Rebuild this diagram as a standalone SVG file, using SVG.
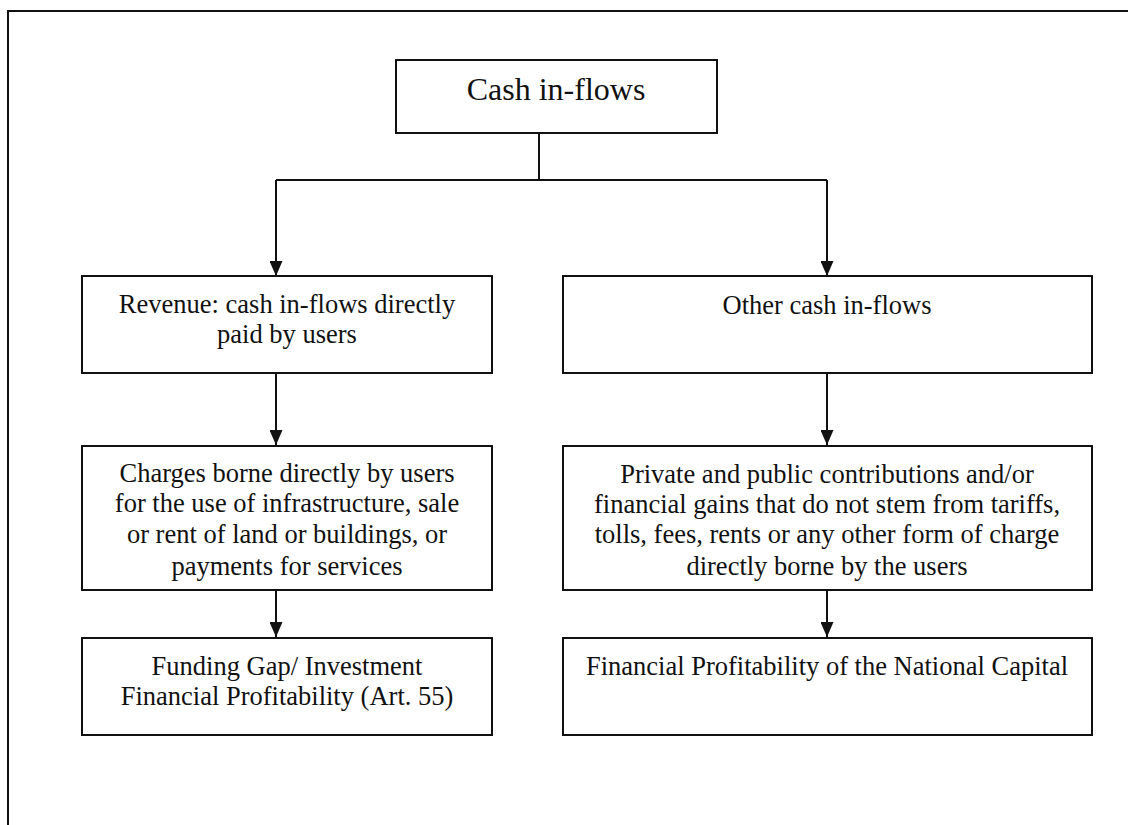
<svg xmlns="http://www.w3.org/2000/svg" width="1128" height="825" viewBox="0 0 1128 825">
<style>
.box{fill:#fff;stroke:#111;stroke-width:2}
.t{font-family:"Liberation Serif","Times New Roman",serif;font-size:26.5px;fill:#111;text-anchor:middle}
.big{font-size:32px}
.c{fill:none;stroke:#111;stroke-width:2}
</style>
<defs>
<marker id="ar" markerWidth="15" markerHeight="13" refX="15" refY="6.5" orient="auto" markerUnits="userSpaceOnUse" viewBox="0 0 15 13">
<path d="M0,0 L15,6.5 L0,13 Z" fill="#111"/>
</marker>
</defs>
<rect width="1128" height="825" fill="#fff"/>
<path d="M8,825 L8,11 L1128,11" fill="none" stroke="#111" stroke-width="2"/>
<g id="connectors">
<path class="c" d="M539,133 L539,180"/>
<path class="c" d="M276,180 L827,180"/>
<path class="c" d="M276,180 L276,276" marker-end="url(#ar)"/>
<path class="c" d="M827,180 L827,276" marker-end="url(#ar)"/>
<path class="c" d="M276,373 L276,445" marker-end="url(#ar)"/>
<path class="c" d="M827,373 L827,445" marker-end="url(#ar)"/>
<path class="c" d="M276,590 L276,637" marker-end="url(#ar)"/>
<path class="c" d="M827,590 L827,637" marker-end="url(#ar)"/>
</g>
<g id="top">
<rect class="box" x="396" y="60" width="321" height="73"/>
<text class="t big" x="556" y="100">Cash in-flows</text>
</g>
<g id="revenue">
<rect class="box" x="82" y="276" width="410" height="97"/>
<text class="t" x="287" y="313">Revenue: cash in-flows directly</text>
<text class="t" x="287" y="343">paid by users</text>
</g>
<g id="other">
<rect class="box" x="563" y="276" width="529" height="97"/>
<text class="t" x="827" y="314">Other cash in-flows</text>
</g>
<g id="charges">
<rect class="box" x="82" y="446" width="410" height="144"/>
<text class="t" x="287" y="482">Charges borne directly by users</text>
<text class="t" x="287" y="512">for the use of infrastructure, sale</text>
<text class="t" x="287" y="543">or rent of land or buildings, or</text>
<text class="t" x="287" y="575">payments for services</text>
</g>
<g id="contributions">
<rect class="box" x="563" y="446" width="529" height="144"/>
<text class="t" x="827" y="483">Private and public contributions and/or</text>
<text class="t" x="827" y="513">financial gains that do not stem from tariffs,</text>
<text class="t" x="827" y="543">tolls, fees, rents or any other form of charge</text>
<text class="t" x="827" y="575">directly borne by the users</text>
</g>
<g id="funding">
<rect class="box" x="82" y="638" width="410" height="97"/>
<text class="t" x="287" y="675">Funding Gap/ Investment</text>
<text class="t" x="287" y="705">Financial Profitability (Art. 55)</text>
</g>
<g id="national">
<rect class="box" x="563" y="638" width="529" height="97"/>
<text class="t" x="827" y="675">Financial Profitability of the National Capital</text>
</g>
</svg>
